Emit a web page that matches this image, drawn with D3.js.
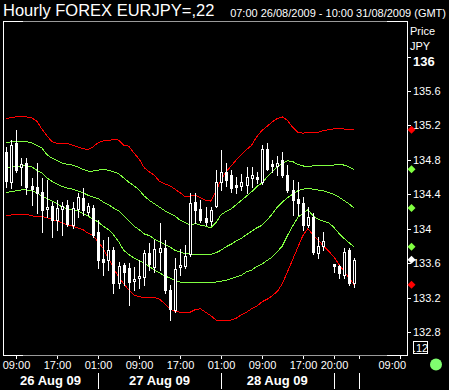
<!DOCTYPE html>
<html><head><meta charset="utf-8">
<script src="https://cdn.jsdelivr.net/npm/d3@7"></script>
<style>
html,body{margin:0;padding:0;background:#000;overflow:hidden;}
svg{display:block;}
text{font-family:"Liberation Sans",Arial,sans-serif;fill:#fff;}
</style></head><body>
<script>
// ---- data (hourly EURJPY candles, index 0 = 07:00 26 Aug 2009) ----
const open = [134.89,134.54,135.00,134.72,134.76,134.50,134.48,134.43,134.23,134.26,
134.10,134.23,134.28,134.04,134.23,134.36,134.20,134.24,133.96,133.65,
133.64,133.75,133.37,133.58,133.54,133.39,133.43,133.44,133.72,133.56,
133.73,133.78,133.29,133.06,133.56,133.57,133.71,134.31,134.23,134.13,
134.09,134.26,134.54,134.66,134.62,134.51,134.50,134.51,134.59,134.60,
134.54,134.93,134.75,134.73,134.80,134.62,134.45,134.35,134.30,134.04,
134.14,133.72,133.80,null,133.59,133.57,133.46,133.75,133.37];
const high = [134.95,135.03,135.15,134.82,134.82,134.59,134.76,134.59,134.57,134.31,
134.33,134.31,134.33,134.31,134.42,134.47,134.30,134.28,134.10,133.87,
133.90,133.79,133.61,133.60,133.60,133.56,133.64,133.75,133.83,133.87,
134.07,133.87,133.35,133.66,133.77,133.81,134.42,134.42,134.33,134.25,
134.25,134.68,134.92,134.76,134.68,134.60,134.64,134.72,134.72,134.66,
134.97,135.00,134.80,134.85,134.89,134.74,134.57,134.54,134.37,134.25,
134.18,133.90,133.96,null,133.59,133.58,133.78,133.78,133.66];
const low = [134.48,134.47,134.66,134.51,134.40,134.28,134.18,133.96,134.14,133.90,
133.99,133.93,134.03,134.01,134.14,134.16,134.16,133.90,133.54,133.46,
133.52,133.25,133.31,133.35,133.11,133.29,133.31,133.35,133.52,133.50,
133.52,133.25,132.94,133.03,133.46,133.54,133.68,134.07,134.08,134.04,
134.04,134.25,134.45,134.50,134.43,134.41,134.45,134.41,134.48,134.53,
134.52,134.68,134.66,134.62,134.60,134.43,134.16,134.16,133.99,134.02,
133.71,133.66,133.75,null,133.50,133.43,133.43,133.35,133.32];
const close = [134.55,134.97,134.68,134.75,134.48,134.46,134.41,134.22,134.25,134.10,
134.24,134.26,134.06,134.24,134.37,134.22,134.26,133.93,133.64,133.61,
133.75,133.37,133.57,133.50,133.38,133.42,133.45,133.72,133.59,133.77,
133.78,133.29,133.07,133.53,133.58,133.68,134.30,134.22,134.10,134.08,
134.22,134.54,134.66,134.57,134.47,134.48,134.54,134.60,134.62,134.58,
134.93,134.69,134.73,134.76,134.62,134.45,134.33,134.30,134.04,134.14,
133.73,133.80,133.86,null,133.57,133.49,133.73,133.37,133.64];

// envelope bands
const upper2 = [135.28,135.29,135.30,135.30,135.30,135.29,135.25,135.16,135.08,135.01,
134.99,134.99,134.99,134.97,134.95,134.93,134.92,134.95,135.00,135.02,
135.02,135.04,135.03,134.97,134.96,134.88,134.81,134.71,134.66,134.62,
134.55,134.52,134.50,134.46,134.42,134.37,134.38,134.39,134.36,134.33,
134.32,134.43,134.57,134.66,134.73,134.80,134.86,134.92,134.97,135.07,
135.14,135.19,135.24,135.28,135.30,135.26,135.18,135.12,135.11,135.12,
135.12,135.12,135.14,135.15,135.16,135.17,135.16,135.15,135.15];
const upper1 = [135.00,135.01,135.01,135.01,135.01,135.00,134.97,134.94,134.86,134.82,
134.79,134.76,134.75,134.74,134.72,134.69,134.67,134.67,134.68,134.69,
134.68,134.66,134.64,134.59,134.54,134.50,134.45,134.38,134.33,134.29,
134.25,134.21,134.18,134.15,134.10,134.07,134.04,134.06,134.04,134.03,
134.01,134.07,134.16,134.20,134.23,134.28,134.33,134.38,134.43,134.49,
134.53,134.60,134.66,134.72,134.76,134.79,134.78,134.75,134.73,134.72,
134.73,134.74,134.74,134.74,134.74,134.75,134.74,134.72,134.69];
const middle = [134.71,134.72,134.72,134.73,134.73,134.72,134.68,134.65,134.59,134.55,
134.52,134.49,134.47,134.46,134.44,134.42,134.39,134.37,134.35,134.31,
134.28,134.24,134.21,134.15,134.09,134.03,133.99,133.94,133.92,133.88,
133.85,133.82,133.79,133.75,133.73,133.71,133.71,133.70,133.70,133.70,
133.70,133.72,133.75,133.79,133.82,133.86,133.89,133.93,133.97,134.01,
134.04,134.10,134.17,134.25,134.31,134.36,134.40,134.44,134.46,134.47,
134.46,134.45,134.44,134.42,134.40,134.37,134.33,134.29,134.24];
const lower1 = [134.42,134.43,134.44,134.45,134.45,134.44,134.42,134.38,134.35,134.32,
134.29,134.25,134.23,134.22,134.21,134.18,134.15,134.11,134.08,134.03,
133.99,133.93,133.85,133.75,133.70,133.66,133.63,133.60,133.56,133.52,
133.49,133.45,133.43,133.40,133.38,133.37,133.37,133.37,133.37,133.37,
133.38,133.38,133.39,133.40,133.42,133.44,133.46,133.50,133.52,133.56,
133.59,133.63,133.67,133.73,133.80,133.92,134.03,134.13,134.18,134.22,
134.15,134.11,134.09,134.07,134.02,133.95,133.89,133.84,133.79];
const lower2 = [134.15,134.16,134.17,134.17,134.17,134.15,134.14,134.14,134.13,134.11,
134.09,134.07,134.04,134.03,134.01,133.99,133.95,133.92,133.85,133.77,
133.66,133.54,133.44,133.36,133.29,133.23,133.21,133.20,133.20,133.20,
133.18,133.13,133.07,133.04,133.03,133.03,133.03,133.06,133.07,133.03,
132.99,132.94,132.93,132.93,132.94,132.96,133.00,133.03,133.07,133.10,
133.15,133.18,133.22,133.27,133.36,133.50,133.64,133.78,133.92,134.00,
133.93,133.87,133.80,133.74,133.68,133.59,133.51,133.43,133.35];

const yTicks = [136, 135.6, 135.2, 134.8, 134.4, 134, 133.6, 133.2, 132.8];
const xTickIdx = [2, 10, 18, 26, 34, 42, 50, 58, 64, 69, 77];
const xTickLabels = ["09:00","17:00","01:00","09:00","17:00","01:00","09:00","17:00","20:00","","09:00"];
const dayBreakIdx = [18, 42, 64, 69];
const dayLabels = ["26 Aug 09", "27 Aug 09", "28 Aug 09"];
const titleText = "Hourly FOREX EURJPY=,22";
const rangeText = "07:00 26/08/2009 - 10:00 31/08/2009 (GMT)";

// ---- drawing ----
const W = 449, H = 390;
const plot = {left: 3, right: 407, top: 21, bottom: 355};
const GREEN = "#80ff40", RED = "#ff0000", GREY = "#9a9a9a";

const svg = d3.select("body").append("svg").attr("width", W).attr("height", H)
  .style("background", "#000");
svg.append("rect").attr("width", W).attr("height", H).attr("fill", "#000");

const x = d3.scaleLinear().domain([0, 68]).range([6, 354]);
const y = d3.scaleLinear().domain([132.8, 136]).range([332, 56.6]);

// title
svg.append("text").attr("x", 3).attr("y", 16).attr("font-size", 16.5).text(titleText);
svg.append("text").attr("x", 446).attr("y", 17).attr("font-size", 11)
  .attr("text-anchor", "end").text(rangeText);

// frame
const frame = svg.append("g").attr("shape-rendering", "crispEdges");
frame.append("line").attr("x1", plot.left + 0.5).attr("x2", plot.left + 0.5)
  .attr("y1", plot.top).attr("y2", plot.bottom + 1).attr("stroke", "#fff");
frame.append("line").attr("x1", plot.right + 0.5).attr("x2", plot.right + 0.5)
  .attr("y1", plot.top).attr("y2", plot.bottom + 1).attr("stroke", "#fff");
[plot.top, plot.bottom].forEach(yy => {
  frame.append("line").attr("x1", plot.left).attr("x2", plot.right + 1)
    .attr("y1", yy + 0.5).attr("y2", yy + 0.5).attr("stroke", "#fff");
  frame.append("line").attr("x1", 23).attr("x2", 387)
    .attr("y1", yy + 0.5).attr("y2", yy + 0.5).attr("stroke", GREY);
});

// bands
const bandDefs = [
  {data: upper2, color: RED}, {data: upper1, color: GREEN}, {data: middle, color: GREEN},
  {data: lower1, color: GREEN}, {data: lower2, color: RED}
];
const line = d3.line().x((d, i) => x(i)).y(d => y(d));
svg.append("g").attr("shape-rendering", "crispEdges").selectAll("path").data(bandDefs).join("path")
  .attr("d", d => line(d.data)).attr("fill", "none")
  .attr("stroke", d => d.color).attr("stroke-width", 1);

// candles
const candles = open.map((o, i) => ({i, o, h: high[i], l: low[i], c: close[i]}))
  .filter(d => d.o != null);
const cg = svg.append("g").attr("shape-rendering", "crispEdges");
candles.forEach(d => {
  const px = Math.round(x(d.i));
  cg.append("line").attr("x1", px + 0.5).attr("x2", px + 0.5)
    .attr("y1", Math.round(y(d.h))).attr("y2", Math.round(y(d.l)) + 1).attr("stroke", "#fff");
  const t = Math.round(y(Math.max(d.o, d.c))), b = Math.round(y(Math.min(d.o, d.c)));
  if (d.c > d.o) {
    cg.append("rect").attr("x", px - 0.5).attr("y", t + 0.5).attr("width", 2)
      .attr("height", Math.max(1, b - t)).attr("fill", "#000").attr("stroke", "#fff");
  } else {
    cg.append("rect").attr("x", px - 1).attr("y", t).attr("width", 3)
      .attr("height", Math.max(2, b - t + 1)).attr("fill", "#fff");
  }
});

// right axis
const ax = svg.append("g");
ax.append("text").attr("x", 410).attr("y", 35).attr("font-size", 11).text("Price");
ax.append("text").attr("x", 410).attr("y", 50).attr("font-size", 11).text("JPY");
yTicks.forEach(v => {
  const yy = Math.round(y(v));
  ax.append("line").attr("x1", 407).attr("x2", 411).attr("y1", yy + 0.5).attr("y2", yy + 0.5)
    .attr("stroke", "#fff").attr("shape-rendering", "crispEdges");
  const big = v === 136;
  ax.append("text").attr("x", 413).attr("y", big ? yy + 9 : yy + 4)
    .attr("font-size", big ? 13 : 11).attr("font-weight", big ? "bold" : "normal")
    .text(d3.format("~g")(v));
});

// last-value markers
const last = open.length - 1;
const markers = [
  {v: upper2[last], c: RED}, {v: upper1[last], c: GREEN}, {v: middle[last], c: GREEN},
  {v: lower1[last], c: GREEN}, {v: close[last], c: "#fff"}, {v: lower2[last], c: RED}
];
markers.forEach(m => {
  const cx = 411.5, cy = y(m.v);
  svg.append("path").attr("d", `M${cx},${cy - 4}L${cx + 4},${cy}L${cx},${cy + 4}L${cx - 4},${cy}Z`)
    .attr("fill", m.c);
});

// scale-box and status dot
svg.append("rect").attr("x", 413.5).attr("y", 341.5).attr("width", 14).attr("height", 12)
  .attr("fill", "none").attr("stroke", "#fff").attr("shape-rendering", "crispEdges");
svg.append("text").attr("x", 420.5).attr("y", 351.5).attr("font-size", 11)
  .attr("text-anchor", "middle").text(".12");
svg.append("circle").attr("cx", 436).attr("cy", 364.5).attr("r", 6).attr("fill", "#80ff70");

// bottom axis
const bx = svg.append("g");
xTickIdx.forEach((idx, k) => {
  const px = Math.round(x(idx));
  bx.append("line").attr("x1", px + 0.5).attr("x2", px + 0.5).attr("y1", 356).attr("y2", 359)
    .attr("stroke", "#fff").attr("shape-rendering", "crispEdges");
  if (xTickLabels[k]) {
    const isLast = k === xTickIdx.length - 1;
    bx.append("text").attr("x", isLast ? 406 : px + 0.5).attr("y", 369).attr("font-size", 11)
      .attr("text-anchor", isLast ? "end" : "middle").text(xTickLabels[k]);
  }
});
dayBreakIdx.forEach(idx => {
  const px = Math.round(x(idx));
  bx.append("line").attr("x1", px + 0.5).attr("x2", px + 0.5).attr("y1", 373).attr("y2", 389)
    .attr("stroke", "#fff").attr("stroke-width", 1).attr("shape-rendering", "crispEdges");
});
const bounds = [plot.left].concat(dayBreakIdx.map(i => x(i)));
dayLabels.forEach((t, k) => {
  bx.append("text").attr("x", (bounds[k] + bounds[k + 1]) / 2).attr("y", 385)
    .attr("font-size", 13).attr("font-weight", "bold").attr("text-anchor", "middle").text(t);
});
</script>
</body></html>
